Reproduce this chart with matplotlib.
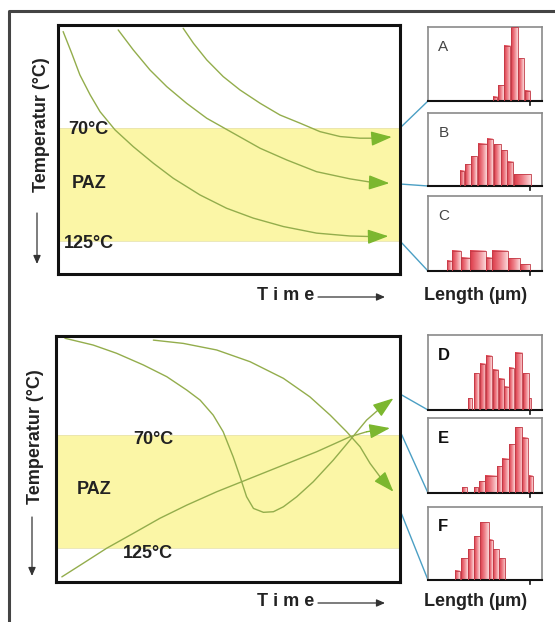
import numpy as np
import matplotlib
matplotlib.use("Agg")
import matplotlib.pyplot as plt
from matplotlib.colors import LinearSegmentedColormap

plt.rcParams['font.family'] = ['Liberation Sans', 'DejaVu Sans']

# ---------------- data ----------------
# Top panel: time (0-100, arbitrary) vs temperature (degC), three cooling paths
top_c1_t = [1.5, 4.0, 6.4, 9.4, 12.3, 16.7, 22.0, 27.9, 33.7, 41.5, 49.3, 57.1, 65.9, 75.6, 85.4, 92.2, 96.6]
top_c1_T = [23.1, 33.6, 44.2, 53.9, 62.1, 71.0, 79.1, 87.2, 94.5, 102.6, 109.1, 113.9, 118.0, 121.2, 122.6, 122.9, 122.7]
top_c2_t = [17.6, 22.0, 26.9, 31.8, 37.6, 43.5, 51.3, 59.1, 66.9, 75.6, 85.4, 92.2, 96.9]
top_c2_T = [22.3, 32.0, 41.8, 49.9, 58.0, 65.3, 72.6, 79.9, 85.6, 91.3, 94.8, 96.6, 96.9]
top_c3_t = [36.6, 39.6, 43.5, 48.3, 53.2, 59.1, 64.9, 70.8, 76.6, 82.5, 88.3, 93.2, 97.6]
top_c3_T = [21.5, 28.8, 36.9, 45.0, 51.5, 58.0, 63.7, 67.7, 71.8, 74.2, 75.0, 75.0, 74.4]

# Bottom panel paths
bot_c1_t = [2.6, 10.8, 17.6, 25.4, 32.2, 38.0, 41.9, 45.7, 48.6, 51.5, 53.5, 55.4, 57.4, 60.3, 63.2, 66.1, 70.0, 74.8, 80.6, 85.5, 90.3, 94.2, 98.1]
bot_c1_T = [22.9, 26.2, 30.2, 35.9, 41.6, 48.1, 53.0, 60.3, 68.4, 80.6, 90.3, 100.0, 105.7, 107.6, 107.3, 104.9, 100.0, 92.7, 82.2, 72.4, 62.7, 57.0, 52.1]
bot_c2_t = [1.7, 7.9, 14.7, 22.5, 30.2, 38.0, 46.7, 56.4, 66.1, 75.8, 85.5, 90.3, 97.1]
bot_c2_T = [139.0, 132.4, 125.1, 117.8, 110.5, 104.1, 97.6, 91.1, 84.6, 78.1, 70.8, 68.4, 66.6]
bot_c3_t = [28.3, 37.0, 46.7, 56.4, 66.1, 73.8, 79.7, 84.5, 88.4, 91.3, 94.2, 98.1]
bot_c3_T = [23.8, 25.4, 28.6, 34.3, 42.4, 51.4, 60.3, 68.4, 75.7, 83.8, 90.3, 97.6]

paz_top, paz_bottom = 70, 125
paz_labels = ["70°C", "PAZ", "125°C"]

# Track-length histograms: bin left edge, bin width, relative frequency
hist_names = ["A", "B", "C", "D", "E", "F"]
A_left = [9.7, 10.5, 11.4, 12.5, 13.5, 14.5]
A_width = [0.7, 0.85, 0.95, 0.95, 0.9, 0.8]
A_freq = [0.06, 0.21, 0.75, 1.0, 0.58, 0.14]
B_left = [4.75, 5.55, 6.5, 7.5, 8.9, 9.9, 10.9, 11.8, 12.9]
B_width = [0.65, 0.85, 0.9, 1.3, 0.9, 1.0, 0.9, 1.0, 2.5]
B_freq = [0.21, 0.30, 0.41, 0.58, 0.65, 0.57, 0.49, 0.33, 0.16]
C_left = [2.9, 3.65, 5.0, 6.3, 8.65, 9.65, 12.0, 13.8]
C_width = [0.75, 1.35, 1.3, 2.35, 1.0, 2.35, 1.8, 1.5]
C_freq = [0.14, 0.27, 0.18, 0.27, 0.18, 0.27, 0.17, 0.09]
D_left = [6.0, 6.95, 7.8, 8.75, 9.7, 10.6, 11.4, 12.2, 13.0, 14.2, 15.1]
D_width = [0.6, 0.75, 0.8, 0.85, 0.8, 0.8, 0.7, 0.75, 1.1, 0.9, 0.3]
D_freq = [0.16, 0.49, 0.62, 0.72, 0.54, 0.42, 0.31, 0.56, 0.76, 0.49, 0.16]
E_left = [5.1, 6.85, 7.7, 8.6, 10.35, 11.1, 12.2, 13.0, 14.1, 15.1]
E_width = [0.75, 0.65, 0.8, 1.75, 0.75, 1.0, 0.8, 1.1, 0.9, 0.6]
E_freq = [0.08, 0.08, 0.16, 0.23, 0.36, 0.46, 0.65, 0.88, 0.74, 0.23]
F_left = [4.1, 5.0, 6.0, 6.95, 7.85, 9.2, 9.7, 10.6]
F_width = [0.75, 1.0, 0.85, 0.8, 1.35, 0.5, 0.9, 1.0]
F_freq = [0.13, 0.30, 0.42, 0.60, 0.79, 0.55, 0.42, 0.30]

# ---------------- styling ----------------
W, H = 555, 622
fig = plt.figure(figsize=(W / 100, H / 100), dpi=100)
fig.patch.set_facecolor("white")

def frac(x0, y0, x1, y1):
    return [x0 / W, 1 - y1 / H, (x1 - x0) / W, (y1 - y0) / H]

curve_col = "#93ad4c"
head_col = "#7cb72f"
band_col = "#fbf6a6"
txt_col = "#222222"
conn_col = "#4b9fc4"

def main_panel(rect, ylim, curves):
    ax = fig.add_axes(rect)
    ax.set_xlim(0, 100)
    ax.set_ylim(*ylim)
    ax.axhspan(paz_top, paz_bottom, color=band_col, zorder=0, lw=0)
    ax.axhline(paz_top, color="#e8e4b0", lw=0.6, zorder=0.5)
    ax.axhline(paz_bottom, color="#e8e4b0", lw=0.6, zorder=0.5)
    for t, T in curves:
        ax.plot(t[:-1], T[:-1], color=curve_col, lw=1.0, zorder=2, solid_capstyle="round")
        ax.annotate("", xy=(t[-1], T[-1]), xytext=(t[-2], T[-2]),
                    arrowprops=dict(arrowstyle="-|>,head_length=0.85,head_width=0.3",
                                    color=head_col, lw=1.0, shrinkA=0, shrinkB=0,
                                    mutation_scale=15), zorder=3)
    ax.set_xticks([]); ax.set_yticks([])
    for s in ax.spines.values():
        s.set_linewidth(2.2)
        s.set_color("#111111")
    return ax

main_panel(frac(58, 25, 400, 274), (141.1, 19.9),
           [(top_c1_t, top_c1_T), (top_c2_t, top_c2_T), (top_c3_t, top_c3_T)])
main_panel(frac(56, 336, 400, 582), (141.5, 21.8),
           [(bot_c1_t, bot_c1_T), (bot_c2_t, bot_c2_T), (bot_c3_t, bot_c3_T)])

# histograms
cmap = LinearSegmentedColormap.from_list("bar", ["#dc3a48", "#ee7f88", "#fbd6d8"])
grad = np.linspace(0, 1, 32).reshape(1, -1)

hist_boxes = [(27, 101), (113, 186), (196, 271), (335, 410), (418, 493), (507, 580)]
hist_data = [(A_left, A_width, A_freq), (B_left, B_width, B_freq), (C_left, C_width, C_freq),
             (D_left, D_width, D_freq), (E_left, E_width, E_freq), (F_left, F_width, F_freq)]
for name, (y0, y1), (lefts, widths, freqs) in zip(hist_names, hist_boxes, hist_data):
    hx = fig.add_axes(frac(428, y0, 542, y1))
    for l, w, f in zip(lefts, widths, freqs):
        hx.imshow(grad, extent=[l, l + w, 0, f], aspect="auto", cmap=cmap,
                  interpolation="bilinear", zorder=2)
        hx.add_patch(plt.Rectangle((l, 0), w, f, fill=False, ec="#c23a46", lw=0.6, zorder=3))
    hx.set_xlim(0, 17.1)
    hx.set_ylim(0, 1.0)
    hx.set_xticks([]); hx.set_yticks([])
    for k in ("left", "top", "right"):
        hx.spines[k].set_color("#8a8a8a")
        hx.spines[k].set_linewidth(1.2)
    hx.spines["bottom"].set_color("#111111")
    hx.spines["bottom"].set_linewidth(1.5)
    hx.plot([15.3, 15.3], [0, -0.05], color="#111111", lw=1.2, clip_on=False)
    bold = name in ("D", "E", "F")
    hx.text(0.09, 0.73, name, transform=hx.transAxes,
            fontsize=12 if bold else 11, fontweight="bold" if bold else "normal",
            color="#111111" if bold else "#444444", va="center", ha="left")

# overlay for decorations
ov = fig.add_axes([0, 0, 1, 1], zorder=-1)
ov.set_xlim(0, W); ov.set_ylim(H, 0); ov.axis("off")
ov2 = fig.add_axes([0, 0, 1, 1], zorder=10)
ov2.set_xlim(0, W); ov2.set_ylim(H, 0); ov2.axis("off")
ov2.patch.set_alpha(0)

# outer frame (top and left edges)
ov.plot([9, 9, W], [H, 11, 11], color="#444444", lw=2.2)

# connectors
for (xa, ya), (xb, yb) in [((400, 128), (428, 101)), ((400, 184), (428, 186)), ((400, 241), (428, 271)),
                           ((400, 394), (428, 410)), ((400, 431), (428, 493)), ((400, 510), (428, 580))]:
    ov.plot([xa, xb], [ya, yb], color=conn_col, lw=1.0)

fs = 13
kw = dict(fontsize=fs, fontweight="bold", color=txt_col)
# top panel labels
ov2.text(68, 129, paz_labels[0], ha="left", va="center", **kw)
ov2.text(72, 184, paz_labels[1], ha="left", va="center", **kw)
ov2.text(64, 243, paz_labels[2], ha="left", va="center", **kw)
# bottom panel labels
ov2.text(133, 440, paz_labels[0], ha="left", va="center", **kw)
ov2.text(77, 489, paz_labels[1], ha="left", va="center", **kw)
ov2.text(123, 553, paz_labels[2], ha="left", va="center", **kw)

# y labels and arrows
for cy, a0, a1, lx in [(125, 213, 264, 41), (437, 517, 576, 36)]:
    ov2.text(lx, cy, "Temperatur (°C)", rotation=90, ha="center", va="center", **kw)
    ov2.annotate("", xy=(lx - 4, a1), xytext=(lx - 4, a0),
                 arrowprops=dict(arrowstyle="-|>,head_length=0.5,head_width=0.22",
                                 color="#333333", lw=0.9, shrinkA=0, shrinkB=0, mutation_scale=10))

# time labels
for ty in (295, 601):
    ov2.text(257, ty, "T i m e", ha="left", va="center", **kw)
    ov2.annotate("", xy=(385, ty + 2), xytext=(318, ty + 2),
                 arrowprops=dict(arrowstyle="-|>,head_length=0.5,head_width=0.22",
                                 color="#333333", lw=0.9, shrinkA=0, shrinkB=0, mutation_scale=10))
    ov2.text(476, ty, "Length (µm)", ha="center", va="center", **kw)

fig.savefig("out.png", dpi=100, facecolor="white")
